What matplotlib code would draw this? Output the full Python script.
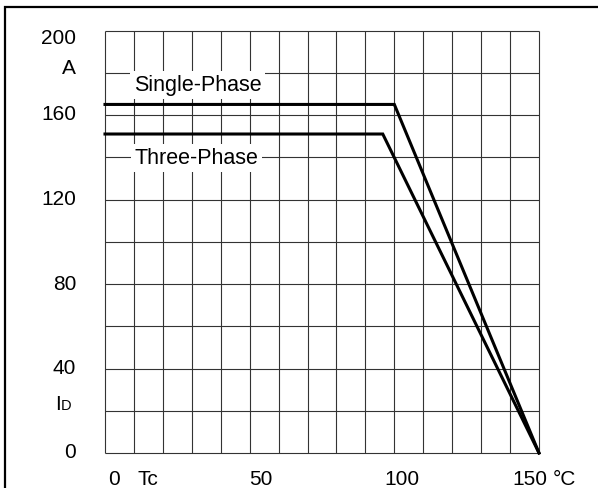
import matplotlib
matplotlib.use("Agg")
import matplotlib.pyplot as plt
from matplotlib.patches import Rectangle
import matplotlib.transforms as mtrans

plt.rcParams['font.family'] = ['Liberation Sans', 'DejaVu Sans']

# Data
single_x = [0, 100, 150]
single_y = [165, 165, 0]
three_x = [0, 96, 150]
three_y = [151, 151, 0]
x_gridlines = list(range(0, 151, 10))
y_gridlines = list(range(0, 201, 20))
y_tick_values = [0, 40, 80, 120, 160, 200]
y_tick_labels = ["0", "40", "80", "120", "160", "200"]
x_tick_values = [3.1, 53.9, 102.7, 146.7]
x_tick_labels = ["0", "50", "100", "150"]

W, H = 598, 488
fig = plt.figure(figsize=(W / 100, H / 100), dpi=100)
fig.patch.set_facecolor('white')

# outer frame (extends beyond right/bottom edge)
fig.add_artist(Rectangle((5 / W, -0.1), 1.2, (H - 7) / H + 0.1,
                         transform=fig.transFigure, fill=False,
                         edgecolor='black', linewidth=1.6))

left, right = 105 / W, 539 / W
bottom, top = (H - 453) / H, (H - 30.5) / H
ax = fig.add_axes([left, bottom, right - left, top - bottom])
ax.set_xlim(0, 150)
ax.set_ylim(0, 200)
for s in ax.spines.values():
    s.set_visible(False)
ax.set_xticks([])
ax.set_yticks([])

ax.vlines(x_gridlines, 0, 200, colors='#333333', linewidth=0.8, clip_on=False, zorder=1)
ax.hlines(y_gridlines, 0, 150, colors='#333333', linewidth=0.8, clip_on=False, zorder=1)

ax.plot(single_x, single_y, color='black', linewidth=2.2, clip_on=False, zorder=3,
        solid_joinstyle='miter')
ax.plot(three_x, three_y, color='black', linewidth=2.2, clip_on=False, zorder=3,
        solid_joinstyle='miter')

fs = 15
ax.text(32.0, 174.2, "Single-Phase", fontsize=15.5, ha='center', va='center', zorder=4,
        bbox=dict(facecolor='white', edgecolor='none', pad=2.5))
ax.text(31.5, 139.6, "Three-Phase", fontsize=15.5, ha='center', va='center', zorder=4,
        bbox=dict(facecolor='white', edgecolor='none', pad=2.5))

# y labels
ylab_trans = mtrans.blended_transform_factory(fig.transFigure, ax.transData)
label_x = 76 / W
y_adj = {200: 196}
for v, lab in zip(y_tick_values, y_tick_labels):
    ax.text(label_x, y_adj.get(v, v), lab, transform=ylab_trans, fontsize=fs,
            ha='right', va='center')
ax.text(label_x, 182, "A", transform=ylab_trans, fontsize=fs, ha='right', va='center')
ax.text(55 / W, 20.4, "I", transform=ylab_trans, fontsize=fs, ha='left', va='baseline')
ax.text(61 / W, 20.4, "D", transform=ylab_trans, fontsize=10.5, ha='left', va='baseline')

# x labels
xlab_trans = mtrans.blended_transform_factory(ax.transData, fig.transFigure)
label_y = (H - 479.5) / H
for v, lab in zip(x_tick_values, x_tick_labels):
    ax.text(v, label_y, lab, transform=xlab_trans, fontsize=fs, ha='center', va='center')
ax.text(11.1, label_y, "Tc", transform=xlab_trans, fontsize=fs, ha='left', va='center')
ax.text(154.9, label_y, "°C", transform=xlab_trans, fontsize=fs, ha='left', va='center')

fig.savefig("out.png", dpi=100)
